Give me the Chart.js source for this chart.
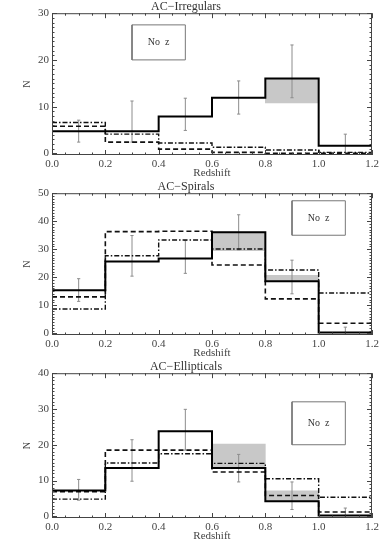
<!DOCTYPE html>
<html>
<head>
<meta charset="utf-8">
<script src="https://cdn.jsdelivr.net/npm/chart.js@4/dist/chart.umd.min.js"></script>
<style>
  html, body { margin: 0; padding: 0; background: #fff; }
  #wrap { position: relative; width: 388px; height: 543px; }
  .panel { position: absolute; left: 0; width: 388px; height: 180px; }
</style>
</head>
<body>
<div id="wrap">
  <div class="panel" style="top:0px"><canvas id="irrChart"></canvas></div>
  <div class="panel" style="top:180px"><canvas id="spiChart"></canvas></div>
  <div class="panel" style="top:360px;height:183px"><canvas id="ellChart"></canvas></div>
</div>
<script>
const binEdges = [0, 0.2, 0.4, 0.6, 0.8, 1.0, 1.2];
const binMids = [0.1, 0.3, 0.5, 0.7, 0.9, 1.1];
const xTicks = [0, 0.2, 0.4, 0.6, 0.8, 1.0, 1.2];

// AC-Irregulars
const irrSolid = [4.7, 4.7, 7.9, 11.9, 16.0, 1.6];
const irrDashed = [5.8, 2.4, 0.9, 0.2, 0, 0];
const irrDashDot = [6.6, 4.1, 2.2, 1.3, 0.7, 0.2];
const irrGrayLo = [null, null, null, null, 10.8, null];
const irrGrayHi = [null, null, null, null, 16.0, null];
const irrErrLo = [2.4, 2.4, 4.9, 8.4, 11.9, -1];
const irrErrHi = [7.1, 11.2, 11.8, 15.5, 23.2, 4.1];
const irrYTicks = [0, 10, 20, 30];
const irrBoxX = [0.3, 0.5];
const irrBoxY = [20, 27.5];

// AC-Spirals
const spiSolid = [15.4, 25.6, 26.7, 36.1, 18.6, 0.3];
const spiDashed = [13.0, 36.3, 36.4, 24.4, 12.3, 3.6];
const spiDashDot = [8.7, 27.7, 33.3, 30.1, 22.6, 14.4];
const spiGrayLo = [null, null, null, 29.5, 18.6, null];
const spiGrayHi = [null, null, null, 36.1, 20.7, null];
const spiErrLo = [11.4, 20.4, 21.4, 29.8, 14.1, -2];
const spiErrHi = [19.5, 34.9, 33.1, 42.3, 26.1, 2.2];
const spiYTicks = [0, 10, 20, 30, 40, 50];
const spiBoxX = [0.9, 1.1];
const spiBoxY = [35, 47.3];

// AC-Ellipticals
const ellSolid = [7.2, 13.5, 23.8, 13.5, 4.2, 0.2];
const ellDashed = [6.9, 18.5, 18.5, 12.4, 5.8, 1.2];
const ellDashDot = [4.8, 14.9, 17.5, 14.8, 10.5, 5.3];
const ellGrayLo = [null, null, null, 13.5, 4.2, null];
const ellGrayHi = [null, null, null, 20.2, 7.1, null];
const ellErrLo = [4.5, 9.8, 18.5, 9.6, 1.9, -2];
const ellErrHi = [10.3, 21.4, 29.9, 17.3, 9.6, 2.3];
const ellYTicks = [0, 10, 20, 30, 40];
const ellBoxX = [0.9, 1.1];
const ellBoxY = [20, 32];

const FONT = 'Liberation Serif';
const AXIS_COLOR = '#444';

function histPoints(values) {
  const pts = values.map((v, i) => ({ x: binEdges[i], y: v }));
  pts.push({ x: binEdges[binEdges.length - 1], y: values[values.length - 1] });
  return pts;
}

function grayBars(lo, hi) {
  const out = [];
  lo.forEach((v, i) => {
    if (v !== null) out.push({ x: binMids[i], y: [v, hi[i]] });
  });
  return out;
}

function errorPoints(lo, hi) {
  const cap = 0.006;
  const pts = [];
  binMids.forEach((m, i) => {
    pts.push({ x: m, y: lo[i] }, { x: m, y: hi[i] }, { x: m, y: null });
    pts.push({ x: m - cap, y: hi[i] }, { x: m + cap, y: hi[i] }, { x: m, y: null });
    pts.push({ x: m - cap, y: lo[i] }, { x: m + cap, y: lo[i] }, { x: m, y: null });
  });
  return pts;
}

function boxPoints(bx, by) {
  return [
    { x: bx[0], y: by[0] }, { x: bx[1], y: by[0] },
    { x: bx[1], y: by[1] }, { x: bx[0], y: by[1] },
    { x: bx[0], y: by[0] },
  ];
}

// frame with inward IDL style ticks, plus the "No z" label
const framePlugin = {
  id: 'frame',
  afterDatasetsDraw(chart, args, opts) {
    const { ctx, chartArea: a, scales: { x, y } } = chart;
    ctx.save();
    ctx.strokeStyle = AXIS_COLOR;
    ctx.lineWidth = 1;
    ctx.strokeRect(a.left + 0.5, a.top + 0.5, a.width - 1, a.height - 1);
    ctx.beginPath();
    for (let v = 0; v <= 1.2001; v += 0.05) {
      const px = Math.round(x.getPixelForValue(v)) + 0.5;
      const major = Math.abs(v / 0.2 - Math.round(v / 0.2)) < 1e-6;
      const len = major ? 5 : 2.5;
      ctx.moveTo(px, a.bottom); ctx.lineTo(px, a.bottom - len);
      ctx.moveTo(px, a.top); ctx.lineTo(px, a.top + len);
    }
    for (let v = 0; v <= y.max + 1e-6; v += 1) {
      const py = Math.round(y.getPixelForValue(v)) + 0.5;
      const len = v % 10 === 0 ? 5 : 2.5;
      ctx.moveTo(a.left, py); ctx.lineTo(a.left + len, py);
      ctx.moveTo(a.right, py); ctx.lineTo(a.right - len, py);
    }
    ctx.stroke();
    if (opts.boxX) {
      ctx.fillStyle = '#333';
      ctx.font = `10px "${FONT}"`;
      ctx.textAlign = 'center';
      ctx.textBaseline = 'middle';
      const cx = x.getPixelForValue((opts.boxX[0] + opts.boxX[1]) / 2);
      const cy = y.getPixelForValue((opts.boxY[0] + opts.boxY[1]) / 2);
      ctx.fillText('No  z', cx, cy);
    }
    ctx.restore();
  },
};

function makePanel(id, title, yMin, yMax, yTicks, solid, dashed, dashDot, grayLo, grayHi, errLo, errHi, boxX, boxY) {
  return new Chart(document.getElementById(id), {
    type: 'bar',
    data: {
      datasets: [
        {
          type: 'bar',
          data: grayBars(grayLo, grayHi),
          backgroundColor: '#c8c8c8',
          borderWidth: 0,
          barPercentage: 1,
          categoryPercentage: 1,
          order: 10,
        },
        {
          type: 'line',
          data: boxPoints(boxX, boxY),
          borderColor: '#777',
          borderWidth: 1,
          pointRadius: 0,
          order: 5,
        },
        {
          type: 'line',
          data: errorPoints(errLo, errHi),
          borderColor: '#8c8c8c',
          borderWidth: 1,
          pointRadius: 0,
          spanGaps: false,
          order: 4,
        },
        {
          type: 'line',
          data: histPoints(dashDot),
          borderColor: '#111',
          borderWidth: 1.4,
          borderDash: [5, 2, 1.5, 2],
          stepped: 'before',
          pointRadius: 0,
          order: 3,
        },
        {
          type: 'line',
          data: histPoints(dashed),
          borderColor: '#111',
          borderWidth: 1.6,
          borderDash: [5, 3],
          stepped: 'before',
          pointRadius: 0,
          order: 2,
        },
        {
          type: 'line',
          data: histPoints(solid),
          borderColor: '#000',
          borderWidth: 2,
          stepped: 'before',
          pointRadius: 0,
          order: 1,
        },
      ],
    },
    options: {
      responsive: true,
      maintainAspectRatio: false,
      animation: false,
      layout: { padding: { left: 0, right: 16, top: 0, bottom: 0 } },
      plugins: {
        legend: { display: false },
        tooltip: { enabled: false },
        title: {
          display: true,
          text: title,
          color: '#333',
          font: { family: FONT, size: 12, weight: 'normal', lineHeight: 1.1 },
          padding: { top: 0, bottom: 0 },
        },
        frame: { boxX, boxY },
      },
      scales: {
        x: {
          type: 'linear',
          min: 0,
          max: 1.2,
          offset: false,
          grid: { display: false, drawTicks: false },
          border: { display: false },
          afterBuildTicks: (scale) => { scale.ticks = xTicks.map((v) => ({ value: v })); },
          afterFit: (scale) => { scale.height = 25; },
          ticks: {
            color: AXIS_COLOR,
            padding: 3,
            maxRotation: 0,
            font: { family: FONT, size: 11 },
            callback: (v) => Number(v).toFixed(1),
          },
          title: {
            display: true,
            text: 'Redshift',
            color: AXIS_COLOR,
            font: { family: FONT, size: 11 },
            padding: { top: 0, bottom: 0 },
          },
        },
        y: {
          min: yMin,
          max: yMax,
          grid: { display: false, drawTicks: false },
          border: { display: false },
          afterBuildTicks: (scale) => { scale.ticks = yTicks.map((v) => ({ value: v })); },
          afterFit: (scale) => { scale.width = 52; },
          ticks: {
            color: AXIS_COLOR,
            padding: 3,
            font: { family: FONT, size: 11 },
          },
          title: {
            display: true,
            text: 'N',
            color: AXIS_COLOR,
            font: { family: FONT, size: 10 },
            padding: { top: 21, bottom: 0 },
          },
        },
      },
    },
    plugins: [framePlugin],
  });
}

makePanel('irrChart', 'AC\u2212Irregulars', -0.36, 30, irrYTicks,
  irrSolid, irrDashed, irrDashDot, irrGrayLo, irrGrayHi, irrErrLo, irrErrHi, irrBoxX, irrBoxY);
makePanel('spiChart', 'AC\u2212Spirals', -0.6, 50, spiYTicks,
  spiSolid, spiDashed, spiDashDot, spiGrayLo, spiGrayHi, spiErrLo, spiErrHi, spiBoxX, spiBoxY);
makePanel('ellChart', 'AC\u2212Ellipticals', -0.48, 40, ellYTicks,
  ellSolid, ellDashed, ellDashDot, ellGrayLo, ellGrayHi, ellErrLo, ellErrHi, ellBoxX, ellBoxY);
</script>
</body>
</html>
